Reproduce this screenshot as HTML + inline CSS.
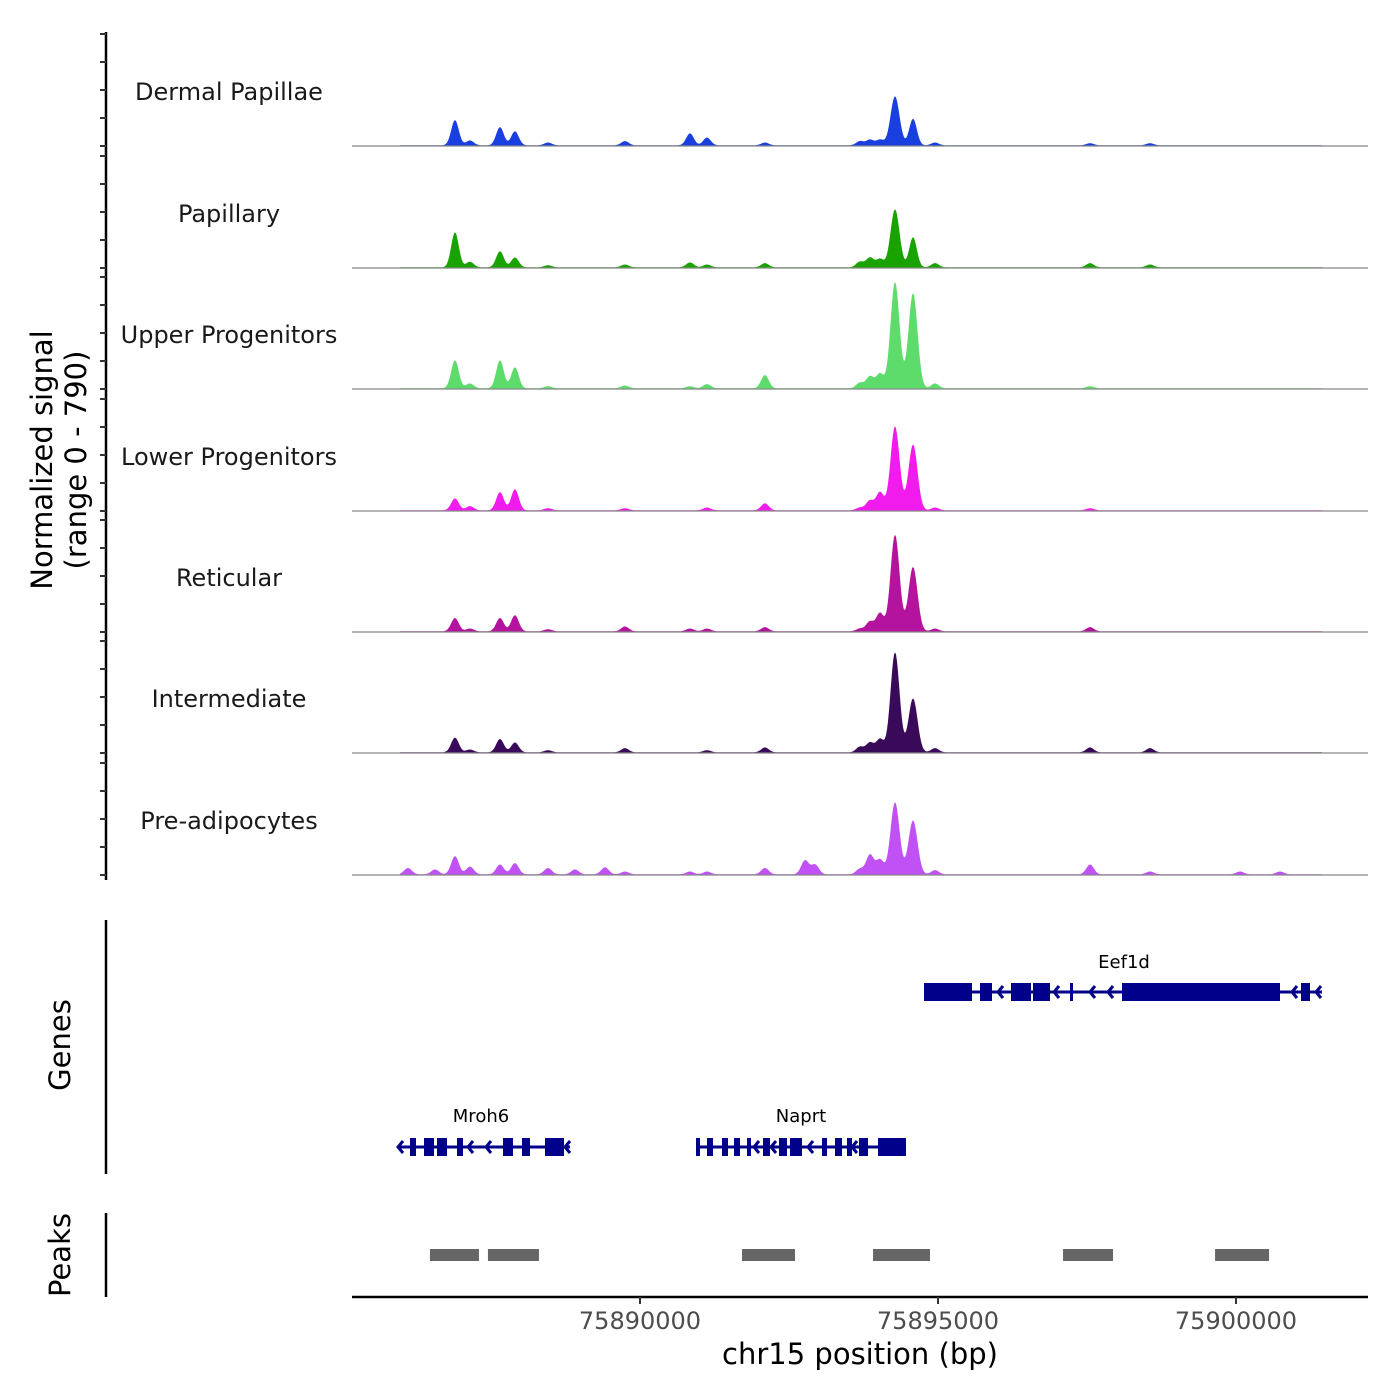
<!DOCTYPE html>
<html><head><meta charset="utf-8"><style>
body{margin:0;background:#fff}
svg{display:block;font-family:"DejaVu Sans","Liberation Sans",sans-serif}
</style></head><body>
<svg id="c" width="1400" height="1400" viewBox="0 0 1400 1400"></svg>
<script>
// ---- data ----
const trackNames = ["Dermal Papillae","Papillary","Upper Progenitors","Lower Progenitors","Reticular","Intermediate","Pre-adipocytes"];
const trackColors = ["#1a3fe0","#19a300","#5ddc6b","#f21bee","#b4139e","#3a0a5a","#c051f5"];
// peak summit positions (bp)
const peakPos = [75886107,75886560,75886896,75887147,75887651,75887902,75888456,75888909,75889413,75889748,75890839,75891124,75892097,75892769,75892937,75893691,75893859,75894027,75894279,75894581,75894950,75897551,75898558,75900068,75900739];
// signal heights (0-790) per track, aligned with peakPos
const sigDP  = [0,0,180,35,130,100,20,0,0,30,85,55,20,0,0,30,40,40,350,190,20,15,15,0,0];
const sigPap = [0,0,250,40,115,70,15,0,0,20,35,20,30,0,0,40,70,60,415,215,30,30,20,0,0];
const sigUP  = [0,0,200,35,200,150,15,0,0,20,15,30,95,0,0,40,85,105,760,680,35,15,0,0,0];
const sigLP  = [0,0,85,30,130,150,15,0,0,15,0,20,50,0,0,20,70,130,600,470,20,15,0,0,0];
const sigRet = [0,0,95,20,95,115,15,0,0,35,20,20,30,0,0,20,70,130,690,460,20,30,0,0,0];
const sigInt = [0,0,105,20,95,70,15,0,0,30,0,15,35,0,0,40,70,95,715,385,30,35,30,0,0];
const sigPre = [45,35,130,55,70,80,45,35,50,20,20,20,45,100,70,40,140,105,515,385,30,70,20,20,20];
const trackSignals = [sigDP,sigPap,sigUP,sigLP,sigRet,sigInt,sigPre];
const xTicks = [75890000,75895000,75900000];
const peakStarts = [75886476,75887449,75891712,75893910,75897098,75899649];
const peakEnds   = [75887298,75888305,75892601,75894866,75897937,75900555];

// ---- scales ----
const X0=352,X1=1368,BP0=75885168,BP1=75902215;
const xs=bp=>X0+(bp-BP0)/(BP1-BP0)*(X1-X0);
const baselines=[146,268,389,511,632,753,875];
const ys=v=>v/790*110.6;
const NS="http://www.w3.org/2000/svg";
const svg=document.getElementById("c");
function mk(tag,attrs,parent){const e=document.createElementNS(NS,tag);for(const k in attrs)e.setAttribute(k,attrs[k]);(parent||svg).appendChild(e);return e;}

// y axis
mk("line",{x1:106,y1:32,x2:106,y2:880,stroke:"#000","stroke-width":2.5});
baselines.forEach((b,ti)=>{
  for(let k=0;k<5;k++){const t=mk("line",{x1:100,x2:106,y1:b-k*28,y2:b-k*28,stroke:"#333","stroke-width":2});
  
  }
  const g=mk("g",{});
  
  
  const lbl=mk("text",{x:229,y:b-46,"text-anchor":"middle","font-size":24,fill:"#1a1a1a"},g);
  lbl.textContent=trackNames[ti];
  
  
  const sig=trackSignals[ti];
  let d="M400,"+b;
  for(let x=400;x<=1322;x+=1){
    let v=5;
    peakPos.forEach((p,i)=>{const s=sig[i];if(!s)return;const px=xs(p);const sd=s>300?4.5:3.8;v+=s*Math.exp(-((x-px)**2)/(2*sd*sd));});
    d+=" L"+x+","+(b-ys(v)).toFixed(1);
  }
  d+=" L1322,"+b+" Z";
  const area=mk("path",{d:d,fill:trackColors[ti],stroke:"none"},g);
  
  
  mk("line",{x1:X0,x2:X1,y1:b,y2:b,stroke:"#888","stroke-width":1.2},g);
});
const yt=mk("text",{transform:"translate(52,460) rotate(-90)","text-anchor":"middle","font-size":29,fill:"#000"});
yt.innerHTML='<tspan x="0" dy="0">Normalized signal</tspan><tspan x="0" dy="34">(range 0 - 790)</tspan>';



// genes
mk("line",{x1:106,y1:920,x2:106,y2:1174,stroke:"#000","stroke-width":2.5});
const gt=mk("text",{transform:"translate(70,1045) rotate(-90)","text-anchor":"middle","font-size":29},svg);gt.textContent="Genes";

const GC="#00008b";
function gene(name,lx,ly,y,x0,x1,exons,arrows){
  const g=mk("g",{});
  
  
  mk("line",{x1:x0,x2:x1,y1:y,y2:y,stroke:GC,"stroke-width":3},g);
  exons.forEach(e=>mk("rect",{x:e[0],y:y-9,width:e[1]-e[0],height:18,fill:GC},g));
  arrows.forEach(a=>mk("path",{d:`M${a+5},${y-6} L${a},${y} L${a+5},${y+6}`,stroke:GC,"stroke-width":3,fill:"none"},g));
  const t=mk("text",{x:lx,y:ly,"text-anchor":"middle","font-size":18},g);t.textContent=name;
}
gene("Eef1d",1124,968,992,924,1322,[[924,972],[980,992],[1011,1031],[1033,1050],[1070,1073],[1122,1280],[1301,1310]],[998,1054,1090,1108,1292,1316]);
gene("Mroh6",481,1122,1147,398,570,[[410,416],[424,434],[437,447],[457,463],[503,513],[522,530],[545,564]],[398,468,486,565]);
gene("Naprt",801,1122,1147,696,906,[[696,700],[707,713],[722,728],[734,740],[747,751],[763,770],[779,787],[790,802],[822,827],[835,842],[847,852],[859,868],[878,906]],[754,771,808,852]);

// peaks
mk("line",{x1:106,y1:1213,x2:106,y2:1297,stroke:"#000","stroke-width":2.5});
const pt=mk("text",{transform:"translate(70,1255) rotate(-90)","text-anchor":"middle","font-size":29},svg);pt.textContent="Peaks";

peakStarts.forEach((s,i)=>{const r=mk("rect",{x:xs(s),y:1249,width:xs(peakEnds[i])-xs(s),height:12,fill:"#666"});
  
  });

// x axis
mk("line",{x1:X0,x2:X1,y1:1297,y2:1297,stroke:"#000","stroke-width":2.5});
xTicks.forEach(t=>{const x=xs(t);
  mk("line",{x1:x,x2:x,y1:1297,y2:1304,stroke:"#333","stroke-width":2});
  const l=mk("text",{x:x,y:1329,"text-anchor":"middle","font-size":24,fill:"#4d4d4d"});l.textContent=t;
  
  });
const xt=mk("text",{x:860,y:1364,"text-anchor":"middle","font-size":29});xt.textContent="chr15 position (bp)";

</script>
</body></html>
